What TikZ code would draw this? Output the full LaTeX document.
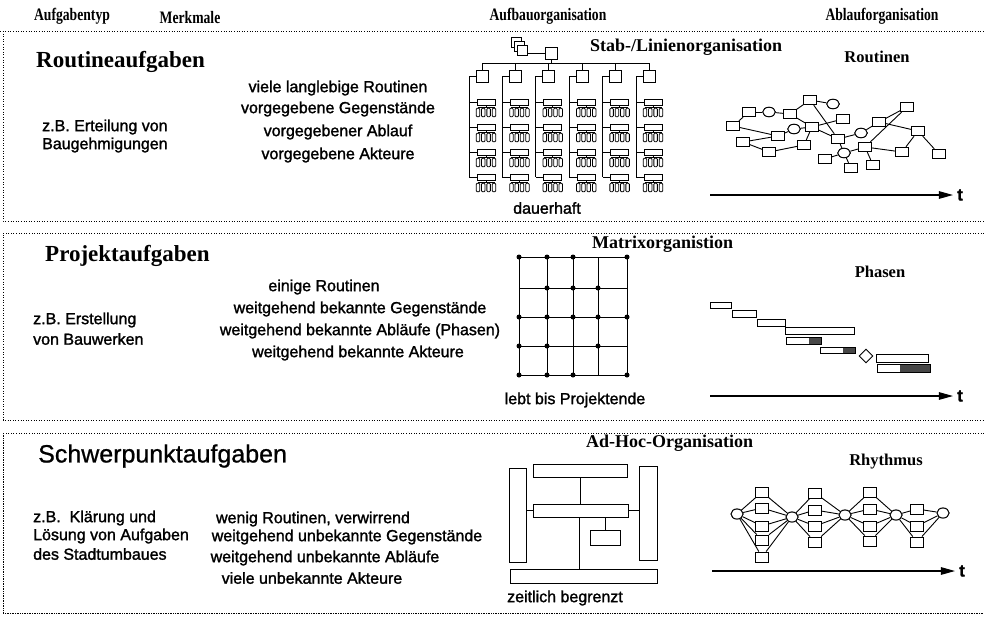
\documentclass[tikz,border=0pt]{standalone}
\usepackage{fontspec}
\setmainfont{Liberation Serif}
\newfontfamily\hv[FakeBold=1.5]{Liberation Sans}
\newfontfamily\hvtitle[FakeBold=0.8]{Liberation Sans}
\usetikzlibrary{shapes.geometric,arrows.meta}

% condensed bold serif for the column headings
\newcommand{\headtext}[1]{\scalebox{0.78}[1]{\fontsize{17.5}{19}\selectfont\bfseries #1}}

\tikzset{
  ln/.style={line width=0.9pt},
  hdr/.style={inner sep=0pt},
  ttl/.style={font=\fontsize{23}{26}\selectfont\bfseries, inner sep=0pt, anchor=west},
  orgtitle/.style={font=\fontsize{18}{20}\selectfont\bfseries, inner sep=0pt},
  flowtitle/.style={font=\fontsize{16.5}{18}\selectfont\bfseries, inner sep=0pt},
  txt/.style={font=\hv\fontsize{16}{18}\selectfont, inner sep=0pt},
  tlabel/.style={font=\hv\fontsize{17}{18}\selectfont\bfseries, inner sep=0pt},
  panel/.style={line width=0.9pt, dash pattern=on 0.9pt off 1.7pt},
  densepanel/.style={line width=0.9pt, dash pattern=on 0.9pt off 0.8pt},
  sq/.style={draw, ln, inner sep=0pt, minimum size=12pt},
  unitbox/.style={draw, line width=0.8pt, inner sep=0pt, minimum width=18pt, minimum height=6pt},
  kid/.style={draw, line width=0.8pt, rounded corners=1pt, inner sep=0pt, minimum width=3.5pt, minimum height=8.5pt},
  rsq/.style={draw, ln, fill=white, inner sep=0pt, minimum width=12.5pt, minimum height=9.5pt},
  rel/.style={draw, ln, fill=white, ellipse, inner sep=0pt, minimum width=12.5pt, minimum height=9.5pt},
  hsq/.style={draw, ln, fill=white, inner sep=0pt, minimum width=13pt, minimum height=10pt},
  hel/.style={draw, ln, fill=white, ellipse, inner sep=0pt, minimum width=12pt, minimum height=10pt},
  bar/.style={line width=1pt},
  darkfill/.style={fill=black!72},
  blk/.style={draw, ln, inner sep=0pt},
  mdot/.style={circle, fill=black, inner sep=0pt, minimum size=5pt},
  timearrow/.style={line width=1.1pt, -{Triangle[length=14pt,width=7.5pt]}},
}

\begin{document}
\begin{tikzpicture}[x=1pt, y=-1pt]
\useasboundingbox (0,0) rectangle (984,616);

% ---------- column headers ----------
\node[hdr] (h1) at (72,16) {\headtext{Aufgabentyp}};
\node[hdr] (h2) at (190,18) {\headtext{Merkmale}};
\node[hdr] (h3) at (548,16) {\headtext{Aufbauorganisation}};
\node[hdr] (h4) at (882,16) {\headtext{Ablauforganisation}};

% ---------- panel frames ----------
\draw[panel] (0,31) -- (984,31);
\draw[panel] (3,31) -- (3,221) -- (984,221);
\draw[panel] (984,233) -- (3,233) -- (3,420) -- (984,420);
\draw[panel] (984,433) -- (3,433);
\draw[densepanel] (3,433) -- (3,613) -- (984,613);

% ================= panel 1: Routineaufgaben =================
\node[ttl] (p1t) at (36,62) {Routineaufgaben};
\node[txt, anchor=west] (p1e1) at (42,127) {z.B. Erteilung von};
\node[txt, anchor=west] (p1e2) at (42,145) {Baugehmigungen};
\node[txt] (p1m1) at (338,88) {viele langlebige Routinen};
\node[txt] (p1m2) at (338,109) {vorgegebene Gegenstände};
\node[txt] (p1m3) at (338,132) {vorgegebener Ablauf};
\node[txt] (p1m4) at (338,155) {vorgegebene Akteure};
\node[orgtitle, anchor=west] (p1o) at (590,47) {Stab-/Linienorganisation};
\node[txt] (p1d) at (547,208) {dauerhaft};
\node[flowtitle] (p1r) at (877,57) {Routinen};

% line organisation chart
\node[sq, minimum size=10pt, fill=white] (st1) at (516,42) {};
\node[sq, minimum size=10pt, fill=white] (st2) at (519,46) {};
\node[sq, minimum size=10pt, fill=white] (st3) at (522,50) {};
\node[sq] (head) at (551,53) {};
\draw[ln] (head.west) -- (head.west -| st3.east);
\coordinate (busL) at (482,63);
\coordinate (busR) at (650,63);
\draw[ln] (head.south) -- (head.south |- busL);
\draw[ln] (busL) -- (busR);
\foreach \i in {0,...,5} {
  \pgfmathsetmacro{\L}{469+33.4*\i}
  \node[sq] (d\i) at ({\L+13},76) {};
  \draw[ln] (d\i.north) -- (d\i.north |- busL);
  \coordinate (dl\i) at (\L,177);
  \draw[ln] (d\i.west) -| (dl\i);
  \foreach \r in {0,...,3} {
    \pgfmathsetmacro{\Y}{102+25*\r}
    \node[unitbox] (u\i\r) at ({\L+17},\Y) {};
    \draw[line width=0.8pt] (\L,\Y) -- (u\i\r.west);
    \coordinate (ub\i\r) at ({\L+17},{\Y+5});
    \draw[line width=0.7pt] (u\i\r.south) -- (ub\i\r);
    \draw[line width=0.7pt] ({\L+9},{\Y+5}) -- ({\L+25},{\Y+5});
    \foreach \c [count=\k] in {9,14.3,19.6,25} {
      \node[kid] (k\i\r\k) at ({\L+\c},{\Y+10.5}) {};
      \draw[line width=0.7pt] ({\L+\c},{\Y+5}) -- (k\i\r\k.north);
    }
  }
}

% routine network
\foreach \n/\x/\y in {A/733/126, B/749/112, C/743/142, D/778/136, E/769/152,
  F/790/114, G/810/100, H/812/127, I/843/119, J/804/145, K/838/139,
  L/825/159, M/851/168, N/865/147, O/873/165, P/879/122, Q/907/107,
  R/918/131, S/902/152, T/939/154}
  \node[rsq] (r\n) at (\x,\y) {};
\foreach \n/\x/\y in {e1/769/112, e2/794/129, e3/833/104, e4/861/133, e5/844/153}
  \node[rel] (r\n) at (\x,\y) {};
\foreach \a/\b in {A/B, A/D, C/D, C/E, B/e1, e1/F, F/G, F/H, G/e3, G/K, H/I,
  H/K, H/J, e2/H, D/e2, E/J, K/e4, e4/P, P/Q, N/Q, P/R, R/S, R/T, N/S, N/O,
  K/e5, e5/L, e5/M, e5/N}
  \draw[ln] (r\a) -- (r\b);
% redraw nodes on top of the edges
\foreach \n/\x/\y in {A/733/126, B/749/112, C/743/142, D/778/136, E/769/152,
  F/790/114, G/810/100, H/812/127, I/843/119, J/804/145, K/838/139,
  L/825/159, M/851/168, N/865/147, O/873/165, P/879/122, Q/907/107,
  R/918/131, S/902/152, T/939/154}
  \node[rsq] at (\x,\y) {};
\foreach \n/\x/\y in {e1/769/112, e2/794/129, e3/833/104, e4/861/133, e5/844/153}
  \node[rel] at (\x,\y) {};

\coordinate (t1s) at (710,195);
\node[tlabel] (t1) at (960,195) {t};
\draw[timearrow] (t1s) -- ([xshift=-4pt]t1.west);

% ================= panel 2: Projektaufgaben =================
\node[ttl] (p2t) at (45,256) {Projektaufgaben};
\node[txt, anchor=west] (p2e1) at (33,320) {z.B. Erstellung};
\node[txt, anchor=west] (p2e2) at (33,339) {von Bauwerken};
\node[txt] (p2m1) at (324,287) {einige Routinen};
\node[txt] (p2m2) at (360,309) {weitgehend bekannte Gegenstände};
\node[txt] (p2m3) at (360,331) {weitgehend bekannte Abläufe (Phasen)};
\node[txt] (p2m4) at (358,353) {weitgehend bekannte Akteure};
\node[orgtitle, anchor=west] (p2o) at (592,244) {Matrixorganistion};
\node[txt] (p2d) at (575,400) {lebt bis Projektende};
\node[flowtitle] (p2r) at (880,272) {Phasen};

% matrix organisation grid
\foreach \xv [count=\i from 0] in {519,547,573,598,627}
  \foreach \yv [count=\j from 0] in {257,288,317,346,375}
    \coordinate (m\i\j) at (\xv,\yv);
\foreach \i in {0,...,4} {
  \draw[ln] (m\i0) -- (m\i4);
  \draw[ln] (m0\i) -- (m4\i);
}
\foreach \i/\j in {0/0,1/0,2/0,4/0, 1/1,2/1,3/1, 0/2,1/2,2/2,3/2,4/2,
  0/3,1/3,3/3, 0/4,1/4,2/4,4/4}
  \node[mdot] (md\i\j) at (m\i\j) {};

% project phases
\draw[bar] (710,302) rectangle (731,308);
\draw[bar] (732,310) rectangle (756,317);
\draw[bar] (757,319) rectangle (785,326);
\draw[bar] (785,327) rectangle (854,334);
\fill[darkfill] (809,337) rectangle (821,344);
\draw[bar] (786,337) rectangle (821,344);
\fill[darkfill] (843,347) rectangle (855,353);
\draw[bar] (820,347) rectangle (855,353);
\node[draw, ln, diamond, inner sep=0pt, minimum size=14pt] (ms) at (866,356) {};
\draw[bar] (876,354) rectangle (928,362);
\fill[darkfill] (900,364) rectangle (930,372);
\draw[bar] (877,364) rectangle (930,372);

\coordinate (t2s) at (710,396);
\node[tlabel] (t2) at (960,396) {t};
\draw[timearrow] (t2s) -- ([xshift=-4pt]t2.west);

% ================= panel 3: Schwerpunktaufgaben =================
\node[font=\hvtitle\fontsize{25}{28}\selectfont, inner sep=0pt, anchor=west] (p3t) at (38,456) {Schwerpunktaufgaben};
\node[txt, anchor=west] (p3e1) at (33,518) {z.B.\ \ Klärung und};
\node[txt, anchor=west] (p3e2) at (33,536) {Lösung von Aufgaben};
\node[txt, anchor=west] (p3e3) at (33,554) {des Stadtumbaues};
\node[txt] (p3m1) at (313,519) {wenig Routinen, verwirrend};
\node[txt] (p3m2) at (347,537) {weitgehend unbekannte Gegenstände};
\node[txt] (p3m3) at (325,558) {weitgehend unbekannte Abläufe};
\node[txt] (p3m4) at (312,578) {viele unbekannte Akteure};
\node[orgtitle, anchor=west] (p3o) at (586,443) {Ad-Hoc-Organisation};
\node[txt] (p3d) at (565,598) {zeitlich begrenzt};
\node[flowtitle] (p3r) at (886,462) {Rhythmus};

% ad-hoc organisation blocks
\node[blk, minimum width=94pt, minimum height=13pt] (atop) at (580,470.5) {};
\node[blk, minimum width=17pt, minimum height=94pt] (aleft) at (517.5,515) {};
\node[blk, minimum width=18pt, minimum height=94pt] (aright) at (648,513) {};
\node[blk, minimum width=95pt, minimum height=13pt] (amid) at (580.5,510.5) {};
\node[blk, minimum width=30pt, minimum height=15pt] (asmall) at (605,537.5) {};
\node[blk, minimum width=147pt, minimum height=14pt] (abot) at (583.5,576) {};
\draw[ln] (atop.south) -- (atop.south |- amid.north);
\draw[ln] (aleft.east |- amid.west) -- (amid.west);
\draw[ln] (amid.east) -- (aright.west |- amid.east);
\draw[ln] (amid.south -| 579,0) -- (abot.north -| 579,0);
\draw[ln] (asmall.north) -- (asmall.north |- amid.south);

% rhythm network
\foreach \n/\x/\y in {1/737/514, 2/792/517, 3/845/515, 4/896/515, 5/943/513}
  \node[hel] (h\n) at (\x,\y) {};
\foreach \c/\x/\ys in {1/762/{492,508,526,540,557}, 2/815/{493,510,526,542},
  3/870/{492,509,526,541}, 4/917/{509,526,542}} {
  \pgfmathtruncatemacro{\nx}{\c+1}
  \foreach \yv [count=\k] in \ys {
    \node[hsq] (q\c\k) at (\x,\yv) {};
    \draw[ln] (h\c) -- (q\c\k);
    \draw[ln] (q\c\k) -- (h\nx);
  }
}
% keep nodes above their connectors
\foreach \n/\x/\y in {1/737/514, 2/792/517, 3/845/515, 4/896/515, 5/943/513}
  \node[hel] at (\x,\y) {};
\foreach \x/\ys in {762/{492,508,526,540,557}, 815/{493,510,526,542},
  870/{492,509,526,541}, 917/{509,526,542}}
  \foreach \yv in \ys
    \node[hsq] at (\x,\yv) {};

\coordinate (t3s) at (712,571);
\node[tlabel] (t3) at (962,571) {t};
\draw[timearrow] (t3s) -- ([xshift=-4pt]t3.west);

\end{tikzpicture}
\end{document}
